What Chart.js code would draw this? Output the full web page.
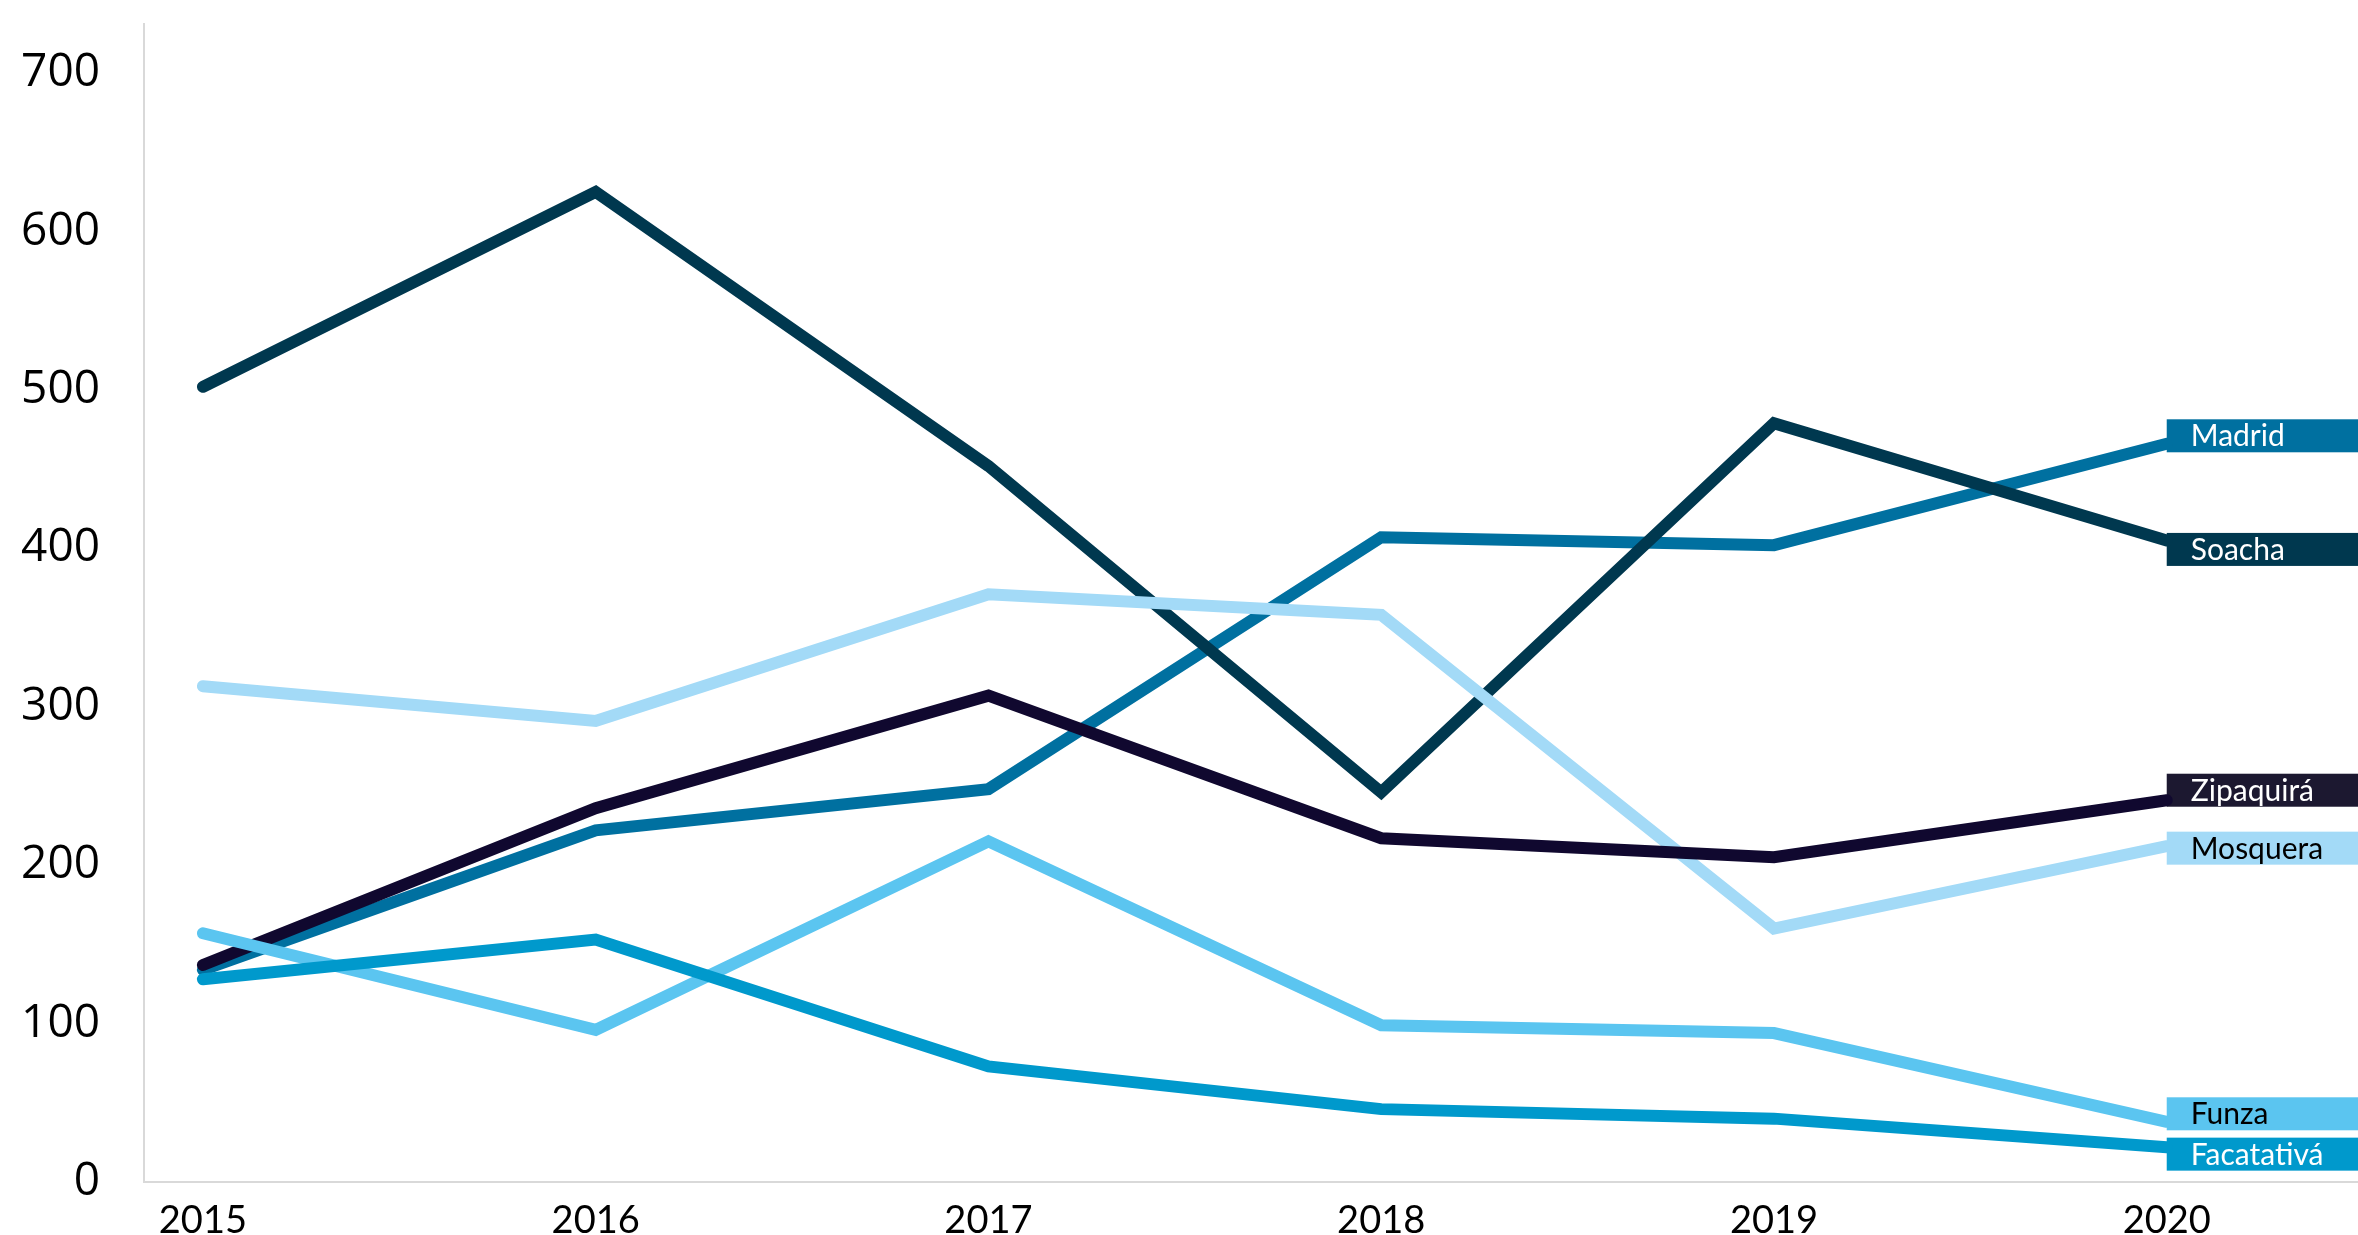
<!DOCTYPE html>
<html>
  <head>
    <meta charset="UTF-8" />
    <title>Municipios 2015-2020</title>
    <script src="https://cdn.jsdelivr.net/npm/chart.js"></script>
    <style>
      body {
        margin: 0;
        padding: 0;
        background: #ffffff;
      }
      #wrap {
        width: 2358px;
        height: 1235px;
      }
    </style>
  </head>
  <body>
    <div id="wrap"><canvas id="myChart" width="2358" height="1235"></canvas></div>
    <script>
      const years = [2015, 2016, 2017, 2018, 2019, 2020];
      const yTicks = [0, 100, 200, 300, 400, 500, 600, 700];

      const soacha     = [502, 625, 452, 246, 479, 405];
      const madrid     = [134, 222, 248, 407, 402, 466];
      const mosquera   = [313, 291, 371, 358, 160, 212];
      const zipaquira  = [137, 236, 307, 217, 205, 241];
      const funza      = [157,  96, 215,  99,  94,  38];
      const facatativa = [128, 153,  73,  46,  40,  22];

      // top of list = drawn on top
      const series = [
        { name: 'Facatativá', values: facatativa, color: '#0099CC', box: '#0099CC', text: '#ffffff', dy: 7 },
        { name: 'Funza',      values: funza,      color: '#5BC5F0', box: '#5BC5F0', text: '#000000', dy: -8 },
        { name: 'Zipaquirá',  values: zipaquira,  color: '#10082F', box: '#1C1830', text: '#ffffff', dy: -10 },
        { name: 'Mosquera',   values: mosquera,   color: '#A3DAF7', box: '#A3DAF7', text: '#000000', dy: 2 },
        { name: 'Soacha',     values: soacha,     color: '#00384F', box: '#00384F', text: '#ffffff', dy: 9 },
        { name: 'Madrid',     values: madrid,     color: '#0070A0', box: '#0070A0', text: '#ffffff', dy: -8 }
      ];

      // end-of-line name boxes, Excel style
      const endLabels = {
        id: 'endLabels',
        beforeDatasetsDraw(chart) {
          const { ctx, scales: { x, y }, width } = chart;
          ctx.save();
          ctx.font = '30px Lato, "Open Sans", sans-serif';
          ctx.textBaseline = 'middle';
          series.forEach(s => {
            const last = s.values.length - 1;
            const px = x.getPixelForValue(years[last]);
            const py = y.getPixelForValue(s.values[last]) + s.dy;
            ctx.fillStyle = s.box;
            ctx.fillRect(px, py - 16.5, width - px, 33);
            ctx.fillStyle = s.text;
            ctx.fillText(s.name, px + 24, py + 1);
          });
          ctx.restore();
        }
      };

      const ctx = document.getElementById('myChart').getContext('2d');
      new Chart(ctx, {
        type: 'line',
        data: {
          datasets: series.map((s, i) => ({
            label: s.name,
            data: years.map((yr, j) => ({ x: yr, y: s.values[j] })),
            borderColor: s.color,
            backgroundColor: s.color,
            borderWidth: 12,
            borderCapStyle: 'round',
            borderJoinStyle: 'miter',
            pointRadius: 0,
            tension: 0,
            order: i
          }))
        },
        options: {
          responsive: false,
          animation: false,
          layout: { padding: { top: 24, right: 0, left: 0, bottom: 0 } },
          plugins: {
            legend: { display: false },
            tooltip: { enabled: false }
          },
          scales: {
            x: {
              type: 'linear',
              min: 2014.85,
              max: 2020.487,
              afterBuildTicks: scale => { scale.ticks = years.map(v => ({ value: v })); },
              afterFit: scale => {
                scale.height = 53;
                scale.paddingLeft = 0;
                scale.paddingRight = 0;
              },
              grid: { display: false, drawTicks: false },
              border: { display: true, color: '#D9D9D9', width: 2 },
              ticks: {
                padding: 16,
                maxRotation: 0,
                color: '#000000',
                font: { family: 'Lato, "Open Sans", sans-serif', size: 38 },
                callback: v => String(v)
              }
            },
            y: {
              min: 0,
              max: 731,
              afterBuildTicks: scale => { scale.ticks = yTicks.map(v => ({ value: v })); },
              afterFit: scale => {
                scale.width = 144;
                scale.paddingTop = 0;
                scale.paddingBottom = 0;
              },
              grid: { display: false, drawTicks: false },
              border: { display: true, color: '#D9D9D9', width: 2 },
              ticks: {
                padding: 44,
                color: '#000000',
                font: { family: '"Open Sans", sans-serif', size: 46 }
              }
            }
          }
        },
        plugins: [endLabels]
      });
    </script>
  </body>
</html>
